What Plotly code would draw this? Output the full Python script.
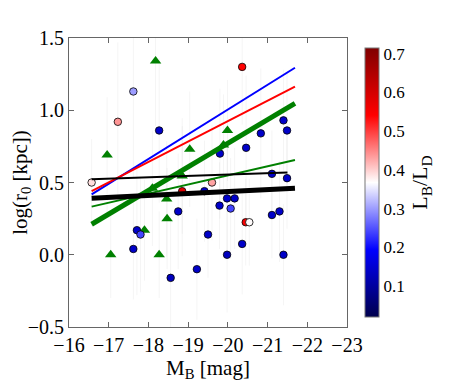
import plotly.graph_objects as go

# disc galaxies: absolute B magnitude, log scale length, bulge/disc ratio
mb_disc = [-17.62, -17.23, -18.27, -19.80, -20.36, -21.40, -21.49, -20.83, -20.46,
           -16.57, -18.85, -19.60, -19.41, -18.75, -17.71, -17.80, -17.62, -19.50,
           -19.22, -18.56, -21.11, -21.49, -19.98, -20.17, -19.79, -20.07, -21.11,
           -21.30, -20.45, -20.54, -20.36, -19.98, -21.40]
logr_disc = [1.13, 0.92, 0.86, 0.70, 1.30, 0.93, 0.86, 0.84, 0.74,
             0.50, 0.44, 0.50, 0.44, 0.30, 0.17, 0.14, 0.04, 0.14,
             -0.10, -0.16, 0.56, 0.53, 0.39, 0.39, 0.34, 0.32, 0.275,
             0.30, 0.225, 0.225, 0.075, 0.00, 0.00]
err_disc = [0.60, 0.55, 0.50, 0.45, 0.40, 0.35, 0.40, 0.45, 0.50,
            0.30, 0.45, 0.40, 0.35, 0.40, 0.45, 0.40, 0.35, 0.30,
            0.35, 0.40, 0.30, 0.35, 0.40, 0.35, 0.30, 0.35, 0.30,
            0.35, 0.30, 0.30, 0.35, 0.40, 0.35]
lb_ld = [0.30, 0.44, 0.14, 0.14, 0.54, 0.14, 0.14, 0.14, 0.14,
         0.39, 0.58, 0.43, 0.14, 0.14, 0.14, 0.24, 0.14, 0.14,
         0.14, 0.13, 0.14, 0.14, 0.14, 0.14, 0.14, 0.24, 0.14,
         0.14, 0.55, 0.37, 0.14, 0.13, 0.14]

# second sample (triangles)
mb_tri = [-18.18, -16.96, -19.04, -19.99, -19.89, -18.85, -18.46, -18.47,
          -17.90, -17.05, -18.27, -18.10]
logr_tri = [1.34, 0.69, 0.73, 0.86, 0.76, 0.545, 0.386, 0.25,
            0.17, 0.00, 0.00, 0.46]
err_tri = [0.45, 0.40, 0.40, 0.35, 0.35, 0.40, 0.40, 0.35,
           0.35, 0.30, 0.30, 0.40]

# fitted relations (end points)
fits = [
    ("blue", [-16.57, -21.69], [0.418, 1.294], "#0000ff", 2),
    ("red", [-16.57, -21.69], [0.441, 1.163], "#ff0000", 2),
    ("green thin", [-16.57, -21.69], [0.333, 0.656], "#008000", 2),
    ("green thick", [-16.57, -21.69], [0.211, 1.048], "#008000", 5),
    ("black thin", [-16.57, -21.50], [0.522, 0.570], "#000000", 2),
    ("black thick", [-16.57, -21.69], [0.391, 0.460], "#000000", 5),
]

cmin, cmax = 0.02, 0.715
seismic = [[0.0, "rgb(0,0,77)"], [0.25, "rgb(0,0,255)"], [0.5, "rgb(255,255,255)"],
           [0.75, "rgb(255,0,0)"], [1.0, "rgb(128,0,0)"]]

font = "Liberation Serif, Times New Roman, serif"
faint = dict(type="data", thickness=1, width=0, color="rgba(0,0,0,0.045)")
fig = go.Figure()

fig.add_trace(go.Scatter(
    x=mb_tri, y=logr_tri, mode="markers", showlegend=False,
    error_y=dict(array=err_tri, **faint),
    marker=dict(symbol="triangle-up", size=10, color="#008000", line=dict(width=0)),
))
fig.add_trace(go.Scatter(
    x=mb_disc, y=logr_disc, mode="markers", showlegend=False,
    error_y=dict(array=err_disc, **faint),
    marker=dict(
        size=7.5, color=lb_ld, colorscale=seismic, cmin=cmin, cmax=cmax,
        line=dict(color="black", width=0.8),
        colorbar=dict(
            x=1.065, xanchor="left", xpad=0, thickness=14, len=1, lenmode="fraction",
            y=0.5, yanchor="middle", outlinecolor="#777", outlinewidth=1,
            tickvals=[0.1, 0.2, 0.3, 0.4, 0.5, 0.6, 0.7], tickformat=".1f",
            ticks="", tickfont=dict(family=font, size=17, color="black"),
            title=dict(text="L<sub>B</sub>/L<sub>D</sub>", side="right",
                       font=dict(family=font, size=22, color="black")),
        ),
    ),
))

for name, fx, fy, col, w in fits:
    fig.add_trace(go.Scatter(x=fx, y=fy, mode="lines", name=name, showlegend=False,
                             line=dict(color=col, width=w)))

axis_style = dict(showline=True, mirror="ticks", linecolor="#666", linewidth=1,
                  ticks="inside", ticklen=5, tickcolor="#666", showgrid=False,
                  zeroline=False, automargin=False,
                  tickfont=dict(family=font, size=20, color="black"))

fig.update_xaxes(range=[-16, -23], tick0=-16, dtick=1,
                 title=dict(text="M<sub>B</sub> [mag]", font=dict(family=font, size=21, color="black"),
                            standoff=0),
                 **axis_style)
fig.update_yaxes(range=[-0.5, 1.5], tick0=-0.5, dtick=0.5, tickformat=".1f",
                 title=dict(text="log(r<sub>0</sub> [kpc])", font=dict(family=font, size=21, color="black"),
                            standoff=4),
                 **axis_style)

# page body adds an 8px offset, so the figure is 8px smaller and margins shifted
fig.update_layout(
    width=455, height=378,
    margin=dict(l=61, r=116, t=30, b=59, autoexpand=False),
    plot_bgcolor="white", paper_bgcolor="white",
    font=dict(family=font, color="black"),
)

fig.write_html("out.html")
